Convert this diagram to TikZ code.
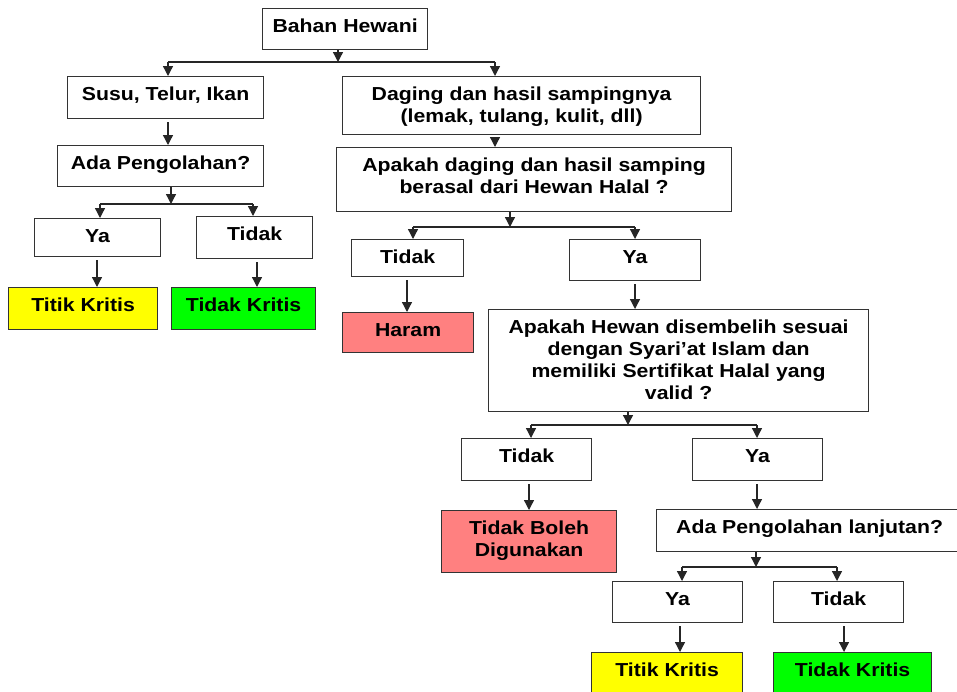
\documentclass[tikz,border=0pt]{standalone}
\usepackage{fontspec}
\setmainfont{Liberation Sans}[FakeStretch=1.13]
\usetikzlibrary{arrows.meta}

\definecolor{kritis}{HTML}{FFFF00}
\definecolor{aman}{HTML}{00FF00}
\definecolor{haramred}{HTML}{FF8080}

% box text: width, height, text (first baseline 24pt below the top)
\newcommand{\boxtext}[3]{\parbox[c][#2pt][t]{#1pt}{\centering\rule{0pt}{24pt}#3}}

\tikzset{
  flowbox/.style={draw=black!80, line width=1.2pt, inner sep=0pt, anchor=north west,
    font=\fontsize{18.8}{22}\selectfont\bfseries},
  flowline/.style={draw=black!85, line width=1.3pt},
  flowarrow/.style={flowline, -{Triangle[width=10pt,length=10pt]}},
}

\begin{document}
\begin{tikzpicture}[x=1pt,y=-1pt]
  \useasboundingbox (0,0) rectangle (957,691);
  \clip (0,0) rectangle (957,691);

  %Boxes
  \node[flowbox] (bahan) at (262,8) {\boxtext{165}{41}{Bahan Hewani}};
  \node[flowbox] (susu) at (67,76) {\boxtext{196}{42}{Susu, Telur, Ikan}};
  \node[flowbox] (daging) at (342,76) {\boxtext{358}{58}{Daging dan hasil sampingnya\\(lemak, tulang, kulit, dll)}};
  \node[flowbox] (adaA) at (57,145) {\boxtext{206}{41}{Ada Pengolahan?}};
  \node[flowbox] (yaA) at (34,218) {\boxtext{126}{38}{Ya}};
  \node[flowbox] (tidakA) at (196,216) {\boxtext{116}{42}{Tidak}};
  \node[flowbox, fill=kritis] (titikA) at (8,287) {\boxtext{149}{42}{Titik Kritis}};
  \node[flowbox, fill=aman] (amanA) at (171,287) {\boxtext{144}{42}{Tidak Kritis}};
  \node[flowbox] (apakahA) at (336,147) {\boxtext{395}{64}{Apakah daging dan hasil samping\\berasal dari Hewan Halal ?}};
  \node[flowbox] (tidakB) at (351,239) {\boxtext{112}{37}{Tidak}};
  \node[flowbox] (yaB) at (569,239) {\boxtext{131}{41}{Ya}};
  \node[flowbox, fill=haramred] (haram) at (342,312) {\boxtext{131}{40}{Haram}};
  \node[flowbox] (apakahB) at (488,309) {\boxtext{380}{102}{Apakah Hewan disembelih sesuai\\dengan Syari’at Islam dan\\memiliki Sertifikat Halal yang\\valid ?}};
  \node[flowbox] (tidakC) at (461,438) {\boxtext{130}{42}{Tidak}};
  \node[flowbox] (yaC) at (692,438) {\boxtext{130}{42}{Ya}};
  \node[flowbox, fill=haramred] (boleh) at (441,510) {\boxtext{175}{62}{Tidak Boleh\\Digunakan}};
  \node[flowbox] (adaB) at (656,509) {\boxtext{306}{42}{Ada Pengolahan lanjutan?}};
  \node[flowbox] (yaD) at (612,581) {\boxtext{130}{41}{Ya}};
  \node[flowbox] (tidakD) at (773,581) {\boxtext{130}{41}{Tidak}};
  \node[flowbox, fill=kritis] (titikB) at (591,652) {\boxtext{151}{60}{Titik Kritis}};
  \node[flowbox, fill=aman] (amanB) at (773,652) {\boxtext{158}{60}{Tidak Kritis}};

  %Splits
  \foreach \src/\lft/\rgt/\xm/\ym/\xl/\xr in {bahan/susu/daging/338/62/168/495,
      adaA/yaA/tidakA/171/204/100/253, apakahA/tidakB/yaB/510/227/413/635,
      apakahB/tidakC/yaC/628/425/531/757, adaB/yaD/tidakD/756/567/682/837}{
    \coordinate (\src-m) at (\xm,\ym);
    \coordinate (\src-l) at (\xl,\ym);
    \coordinate (\src-r) at (\xr,\ym);
    \draw[flowarrow] (\src-m |- \src.south) -- (\src-m);
    \draw[flowline] (\src-l) -- (\src-r);
    \draw[flowarrow] (\src-l) -- (\src-l |- \lft.north);
    \draw[flowarrow] (\src-r) -- (\src-r |- \rgt.north);
  }

  %Straight arrows
  \foreach \from/\to/\xa in {susu/adaA/168, daging/apakahA/495, yaA/titikA/97,
      tidakA/amanA/257, tidakB/haram/407, yaB/apakahB/635, tidakC/boleh/529,
      yaC/adaB/757, yaD/titikB/680, tidakD/amanB/844}
    \draw[flowarrow, shorten <=3pt] (\xa,0 |- \from.south) -- (\xa,0 |- \to.north);
\end{tikzpicture}
\end{document}
